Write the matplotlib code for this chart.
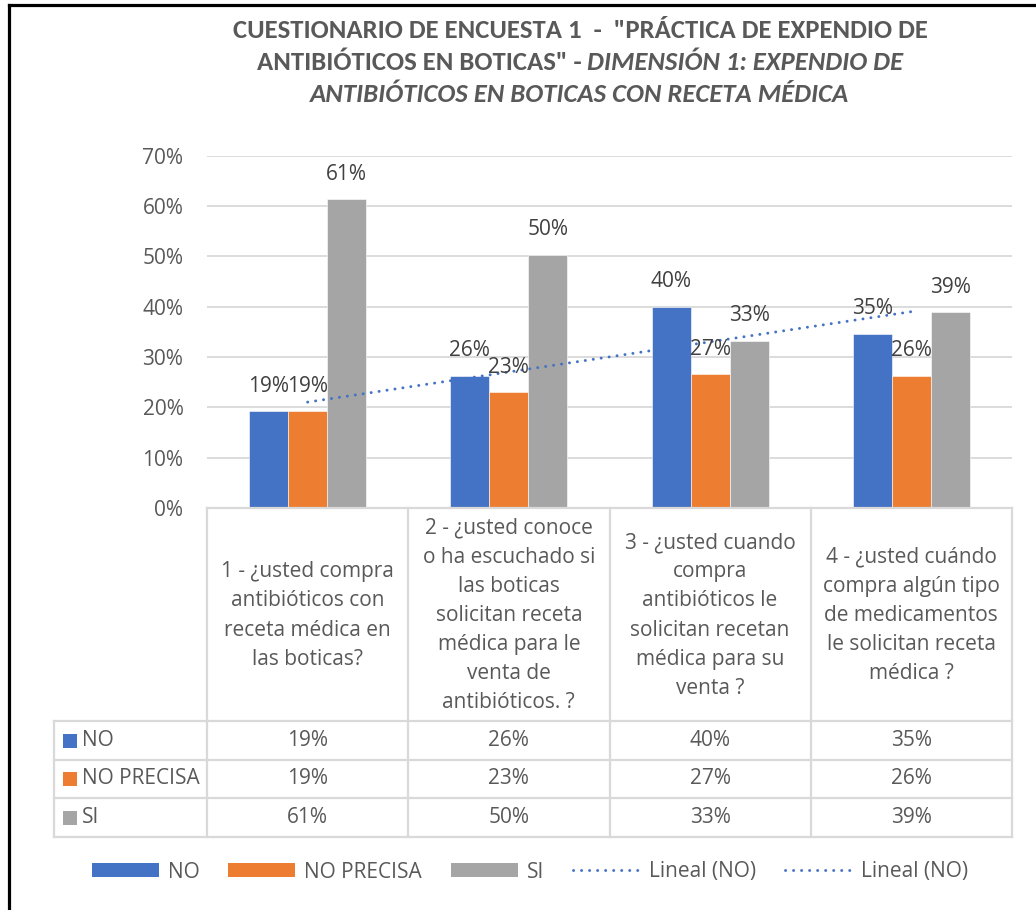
import matplotlib
matplotlib.use('Agg')
import matplotlib.pyplot as plt
from matplotlib.patches import Patch, Rectangle
from matplotlib.lines import Line2D
from matplotlib import font_manager as fm
import numpy as np

# ---------------- data ----------------
categories = [
    "1 - ¿usted compra\nantibióticos con\nreceta médica en\nlas boticas?",
    "2 - ¿usted conoce\no ha escuchado si\nlas boticas\nsolicitan receta\nmédica para le\nventa de\nantibióticos. ?",
    "3 - ¿usted cuando\ncompra\nantibióticos le\nsolicitan recetan\nmédica para su\nventa ?",
    "4 - ¿usted cuándo\ncompra algún tipo\nde medicamentos\nle solicitan receta\nmédica ?",
]
series_names = ["NO", "NO PRECISA", "SI"]
no_vals = [0.192, 0.263, 0.400, 0.346]
noprecisa_vals = [0.192, 0.230, 0.266, 0.263]
si_vals = [0.613, 0.503, 0.332, 0.389]
ytick_vals = [0.0, 0.1, 0.2, 0.3, 0.4, 0.5, 0.6, 0.7]
trend_label = "Lineal (NO)"
title_line1 = "CUESTIONARIO DE ENCUESTA 1  -  \"PRÁCTICA DE EXPENDIO DE"
title_line2a = "ANTIBIÓTICOS EN BOTICAS\" -"
title_line2b = "DIMENSIÓN 1: EXPENDIO DE"
title_line3 = "ANTIBIÓTICOS EN BOTICAS CON RECETA MÉDICA"

colors = ["#4472C4", "#ED7D31", "#A5A5A5"]
series_vals = [no_vals, noprecisa_vals, si_vals]

# ---------------- fonts ----------------
names = {f.name for f in fm.fontManager.ttflist}
title_font = 'Carlito' if 'Carlito' in names else 'DejaVu Sans'
body_font = 'Open Sans' if 'Open Sans' in names else 'DejaVu Sans'
plt.rcParams['font.family'] = [body_font, 'DejaVu Sans']

W, H = 1036, 910
fig = plt.figure(figsize=(W / 100, H / 100), dpi=100)


def fx(px):
    return px / W


def fy(py):
    return 1 - py / H


TXT = '#595959'
LBL = '#404040'
GRID = '#D9D9D9'
FS = 15

# ---------------- main axes ----------------
ax_left, ax_right, ax_top, ax_bot = 207, 1012, 155.7, 508
ax = fig.add_axes([fx(ax_left), fy(ax_bot), (ax_right - ax_left) / W, (ax_bot - ax_top) / H])
ax.set_xlim(-0.5, len(categories) - 0.5)
ax.set_ylim(0, 0.7)
x = np.arange(len(categories))
bw = 0.194
for k, (vals, c) in enumerate(zip(series_vals, colors)):
    pos = x + (k - 1) * bw
    ax.bar(pos, vals, width=bw, color=c, edgecolor='white', linewidth=0.4, zorder=2)
    for xi, v in zip(pos, vals):
        ax.annotate(f"{v:.0%}", (xi, v), xytext=(0, 18), textcoords='offset points',
                    ha='center', va='center', fontsize=FS, color=LBL, zorder=4)

# trendline of NO (linear fit, as Excel "Lineal")
coef = np.polyfit(x, no_vals, 1)
trend = np.polyval(coef, x)
dot_style = (0, (0.05, 2.7))
ax.plot(x, trend, color='#4472C4', lw=2.1, linestyle=dot_style,
        dash_capstyle='round', solid_capstyle='round', zorder=3)

ax.set_yticks(ytick_vals)
ax.set_yticklabels([f"{v:.0%}" for v in ytick_vals])
ax.tick_params(axis='y', length=0, pad=17, labelsize=FS, labelcolor=TXT)
ax.tick_params(axis='x', length=0, labelbottom=False)
ax.set_xticks([])
ax.yaxis.grid(True, color=GRID, lw=1.3, zorder=0)
ax.set_axisbelow(True)
for s in ax.spines.values():
    s.set_visible(False)

# ---------------- data table ----------------
rows_y = [508, 721, 760, 798, 837]
tab = fig.add_axes([fx(ax_left), fy(837), (ax_right - ax_left) / W, (837 - 508) / H])
tab.set_xlim(-0.5, len(categories) - 0.5)
tab.set_ylim(837, 508)
tab.axis('off')
colw_px = (ax_right - ax_left) / len(categories)


def px2x(px):
    return (px - ax_left) / colw_px - 0.5


xl = px2x(54)
xr = len(categories) - 0.5
lc = '#D9D9D9'
lw = 1.6
tab.plot([-0.5, xr], [508, 508], color=lc, lw=lw, clip_on=False)
for yy in rows_y[1:]:
    tab.plot([xl, xr], [yy, yy], color=lc, lw=lw, clip_on=False)
tab.plot([xl, xl], [721, 837], color=lc, lw=lw, clip_on=False)
for i in range(len(categories) + 1):
    xx = i - 0.5
    tab.plot([xx, xx], [508, 837], color=lc, lw=lw, clip_on=False)

for i, cat in enumerate(categories):
    tab.text(i, (508 + 721) / 2 + 1, cat, ha='center', va='center', fontsize=FS,
             color=TXT, linespacing=1.51)

for r, (name, vals, c) in enumerate(zip(series_names, series_vals, colors)):
    yc = (rows_y[r + 1] + rows_y[r + 2]) / 2
    tab.add_patch(Rectangle((px2x(63), yc - 7), px2x(77) - px2x(63), 14, facecolor=c,
                            edgecolor='none', clip_on=False))
    tab.text(px2x(82), yc, name, ha='left', va='center', fontsize=FS, color=TXT)
    for i, v in enumerate(vals):
        tab.text(i, yc, f"{v:.0%}", ha='center', va='center', fontsize=FS, color=TXT)

# ---------------- legend ----------------
handles = [Patch(facecolor=c, edgecolor='none') for c in colors]
trend_handle = Line2D([], [], color='#4472C4', lw=2.1, linestyle=dot_style,
                      dash_capstyle='round')
handles += [trend_handle, trend_handle]
labels = series_names + [trend_label, trend_label]
fig.legend(handles, labels, loc='center', bbox_to_anchor=(fx(530), fy(872)), ncol=5,
           frameon=False, fontsize=FS, labelcolor=TXT, handlelength=3.2, handleheight=0.65,
           handletextpad=0.45, columnspacing=1.38)

# ---------------- title ----------------
tkw = dict(fontsize=19.3, fontweight='bold', color=TXT, family=title_font)
fig.text(fx(580), fy(37.5), title_line1, ha='center', va='baseline', **tkw)
t2a = fig.text(0, fy(69.5), title_line2a, ha='left', va='baseline', **tkw)
t2b = fig.text(0, fy(69.5), title_line2b, ha='left', va='baseline', style='italic', **tkw)
fig.text(fx(580), fy(101.5), title_line3, ha='center', va='baseline', style='italic', **tkw)
r = fig.canvas.get_renderer()
wa = t2a.get_window_extent(r).width
wb = t2b.get_window_extent(r).width
gap = 6
start = 580 - (wa + gap + wb) / 2
t2a.set_x(fx(start))
t2b.set_x(fx(start + wa + gap))

# ---------------- frame ----------------
fig.add_artist(Line2D([fx(9), 1], [fy(5), fy(5)], transform=fig.transFigure, color='black', lw=2.3))
fig.add_artist(Line2D([fx(9), fx(9)], [fy(5), 0], transform=fig.transFigure, color='black', lw=2.3))

fig.savefig('out.png', dpi=100)
